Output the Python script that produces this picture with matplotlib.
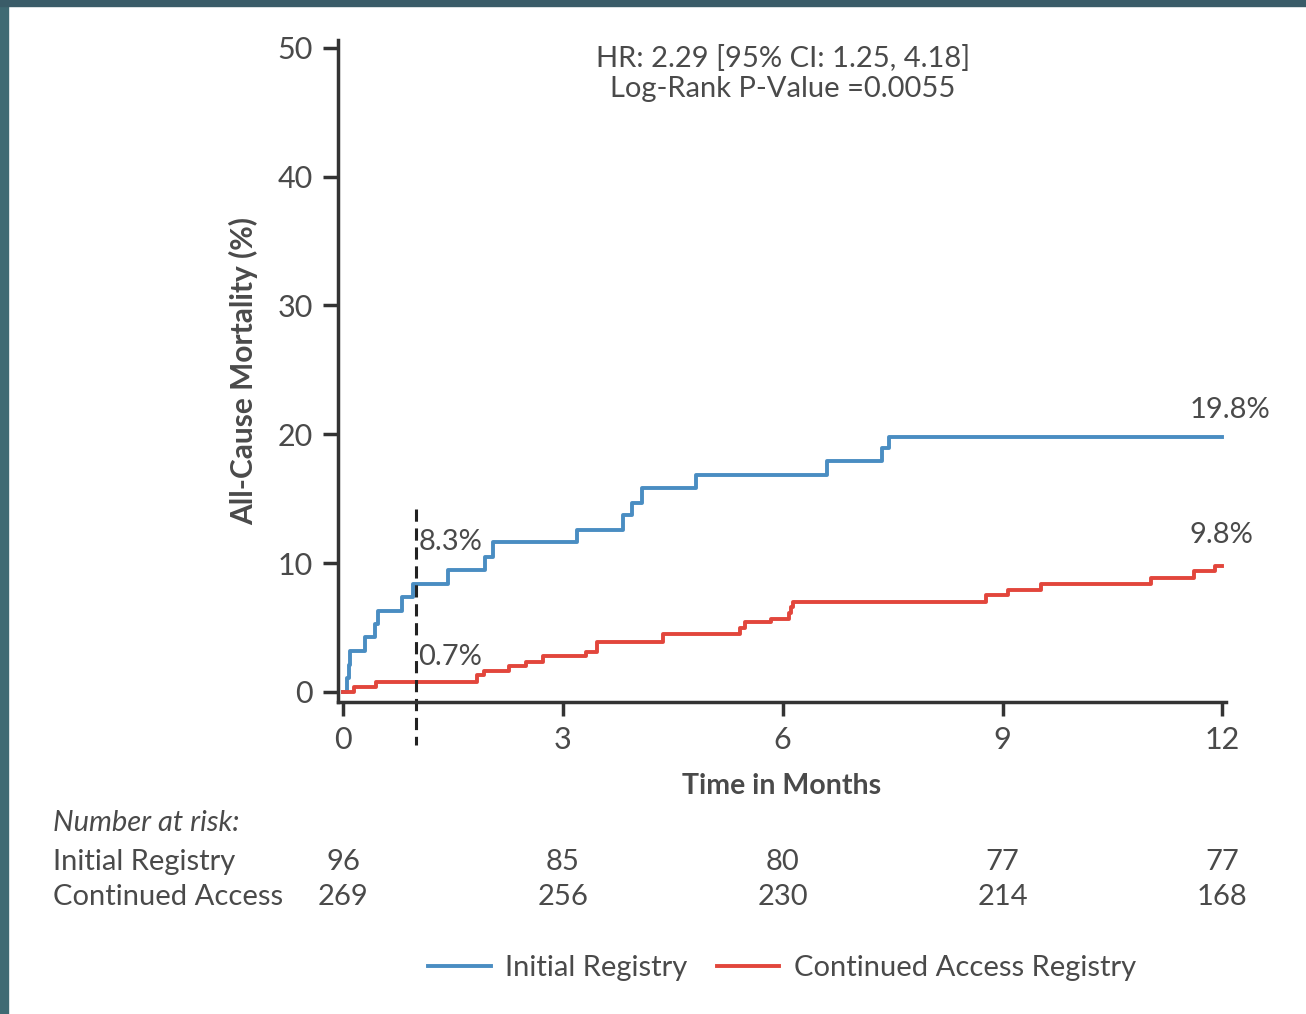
import matplotlib
matplotlib.use("Agg")
import matplotlib.pyplot as plt
from matplotlib.patches import Rectangle
from matplotlib.transforms import blended_transform_factory

plt.rcParams['font.family'] = ['Lato', 'DejaVu Sans']

# Kaplan-Meier style cumulative mortality (months, %)
initial_t = [0, 0.05, 0.08, 0.10, 0.30, 0.43, 0.48, 0.80, 0.96, 1.43, 1.94, 2.05,
             3.19, 3.82, 3.94, 4.08, 4.81, 6.60, 7.35, 7.45, 12.0]
initial_y = [0, 1.05, 2.1, 3.2, 4.3, 5.3, 6.3, 7.4, 8.4, 9.5, 10.5, 11.6,
             12.6, 13.7, 14.7, 15.8, 16.8, 17.9, 18.9, 19.8, 19.8]

continued_t = [0, 0.15, 0.45, 1.83, 1.92, 2.26, 2.50, 2.73, 3.32, 3.46, 4.36, 5.42,
               5.49, 5.84, 6.08, 6.11, 6.14, 8.78, 9.08, 9.53, 11.03, 11.62, 11.90, 12.0]
continued_y = [0, 0.35, 0.75, 1.3, 1.6, 2.0, 2.3, 2.8, 3.1, 3.9, 4.5, 4.95,
               5.4, 5.7, 6.15, 6.6, 7.0, 7.5, 7.9, 8.4, 8.85, 9.35, 9.8, 9.8]

risk_times = [0, 3, 6, 9, 12]
risk_initial = [96, 85, 80, 77, 77]
risk_continued = [269, 256, 230, 214, 168]

blue = '#4a8dc2'
red = '#e2463c'
txt = '#4a4a4a'
axc = '#333333'

fig = plt.figure(figsize=(13.06, 10.14), dpi=100)
W, H = 1306, 1014
ax = fig.add_axes([338 / W, (H - 702) / H, (1226 - 338) / W, (702 - 40) / H])

ax.step(initial_t, initial_y, where='post', color=blue, lw=2.8, label='Initial Registry')
ax.step(continued_t, continued_y, where='post', color=red, lw=2.8,
        label='Continued Access Registry')

# 30-day marker
ax.plot([1, 1], [14.2, -4.1], color='#222222', lw=2.2, ls=(0, (4, 2.2)), clip_on=False)

ax.set_xlim(-0.07, 12.05)
ax.set_ylim(-0.78, 50.6)
ax.set_xticks([0, 3, 6, 9, 12])
ax.set_yticks([0, 10, 20, 30, 40, 50])
for s in ['top', 'right']:
    ax.spines[s].set_visible(False)
for s in ['left', 'bottom']:
    ax.spines[s].set_linewidth(2.5)
    ax.spines[s].set_color(axc)
ax.tick_params(axis='y', length=11, width=2.5, color=axc, labelsize=22, labelcolor=txt, pad=7)
ax.tick_params(axis='x', length=10, width=2.5, color=axc, labelsize=22, labelcolor=txt, pad=7)

ax.set_ylabel('All-Cause Mortality (%)', fontsize=21.5, fontweight='bold', color=txt, labelpad=14)
ax.set_xlabel('Time in Months', fontsize=20.5, fontweight='bold', color=txt, labelpad=14)

ax.text(6, 48.0, 'HR: 2.29 [95% CI: 1.25, 4.18]\nLog-Rank P-Value =0.0055',
        ha='center', va='center', fontsize=21, color=txt, linespacing=1.2)

ax.text(11.55, 21.9, '19.8%', ha='left', va='center', fontsize=21, color=txt)
ax.text(11.55, 12.2, '9.8%', ha='left', va='center', fontsize=21, color=txt)
ax.text(1.03, 11.6, '8.3%', ha='left', va='center', fontsize=21, color=txt)
ax.text(1.03, 2.7, '0.7%', ha='left', va='center', fontsize=21, color=txt)

# number at risk table
tr = blended_transform_factory(ax.transData, fig.transFigure)
fig.text(53 / W, 1 - 823 / H, 'Number at risk:', fontsize=21, style='italic', color=txt,
         ha='left', va='center')
fig.text(53 / W, 1 - 862 / H, 'Initial Registry', fontsize=21, color=txt, ha='left', va='center')
fig.text(53 / W, 1 - 897 / H, 'Continued Access', fontsize=21, color=txt, ha='left', va='center')
for t, a, b in zip(risk_times, risk_initial, risk_continued):
    ax.text(t, 1 - 862 / H, str(a), transform=tr, ha='center', va='center',
            fontsize=21, color=txt, clip_on=False)
    ax.text(t, 1 - 897 / H, str(b), transform=tr, ha='center', va='center',
            fontsize=21, color=txt, clip_on=False)

handles, labels = ax.get_legend_handles_labels()
leg = fig.legend(handles, labels, loc='center', bbox_to_anchor=(782 / W, 1 - 968 / H), ncol=2,
                 frameon=False, fontsize=21, handlelength=2.15, handletextpad=0.5,
                 columnspacing=1.0)
for t in leg.get_texts():
    t.set_color(txt)

# dark frame edge along top and left
fig.patches.append(Rectangle((0, 0), 8 / W, 1, transform=fig.transFigure,
                             color='#3f6a73', zorder=10))
fig.patches.append(Rectangle((0, 1 - 6 / H), 1, 6 / H, transform=fig.transFigure,
                             color='#3a5c68', zorder=10))

fig.savefig('out.png', dpi=100)
